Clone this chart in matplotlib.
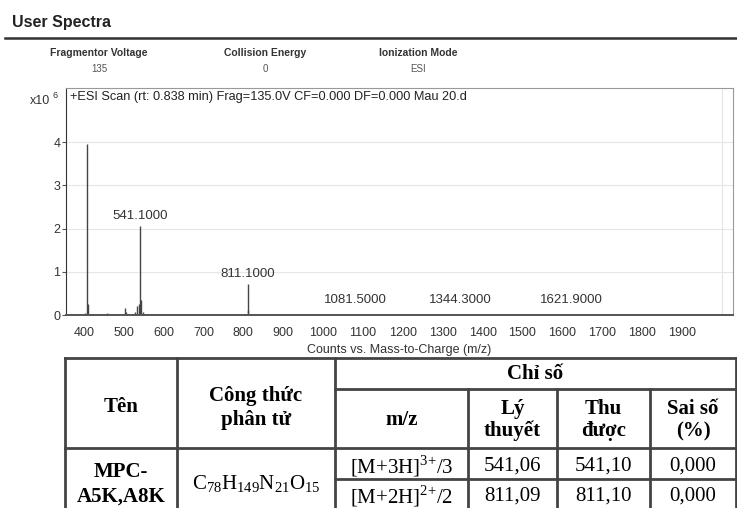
import matplotlib.pyplot as plt

plt.rcParams['mathtext.fontset'] = 'custom'
plt.rcParams['mathtext.rm'] = 'Liberation Serif'

W, H = 737, 508

# header info
info_names = ['Fragmentor Voltage', 'Collision Energy', 'Ionization Mode']
info_values = ['135', '0', 'ESI']
scan_title = '+ESI Scan (rt: 0.838 min) Frag=135.0V CF=0.000 DF=0.000 Mau 20.d'

# spectrum (m/z, counts x10^6)
peak_mz = [403, 408.0, 409.5, 432, 458, 480, 503, 505, 527, 533, 537,
           541.1, 542.5, 548, 601, 650, 811.1, 812.5, 830, 1081.5, 1344.3, 1621.9]
peak_int = [0.05, 3.95, 0.25, 0.03, 0.04, 0.03, 0.17, 0.08, 0.06, 0.2, 0.25,
            2.05, 0.35, 0.06, 0.03, 0.02, 0.72, 0.12, 0.03, 0.03, 0.02, 0.02]
labeled_mz = [541.1, 811.1, 1081.5, 1344.3, 1621.9]
labeled_int = [2.05, 0.72, 0.03, 0.02, 0.02]
x_ticks = list(range(400, 2000, 100))
y_ticks = [0, 1, 2, 3, 4]

# table
col_heads = ['Tên', 'Công thức\nphân tử']
group_head = 'Chỉ số'
sub_heads = ['m/z', 'Lý\nthuyết', 'Thu\nđược', 'Sai số\n(%)']
compound = 'MPC-\nA5K,A8K'
formula = r'$\mathrm{C_{78}H_{149}N_{21}O_{15}}$'
ions = [r'[M+3H]$^{\mathrm{3{+}}}$/3', r'[M+2H]$^{\mathrm{2{+}}}$/2']
theory = ['541,06', '811,09']
found = ['541,10', '811,10']
error = ['0,000', '0,000']

fig = plt.figure(figsize=(W / 100, H / 100), dpi=100)
bg = fig.add_axes([0, 0, 1, 1])
bg.set_xlim(0, W)
bg.set_ylim(H, 0)
bg.axis('off')

sans = 'Liberation Sans'
serif = 'Liberation Serif'

bg.text(12, 22, 'User Spectra', fontsize=11.5, fontweight='bold', family=sans,
        va='center', color='#222222')
bg.plot([5, W], [38, 38], color='#333333', lw=1.8)
for cx, name, val in zip([99, 265, 418], info_names, info_values):
    bg.text(cx, 53, name, fontsize=7.5, fontweight='bold', family=sans,
            ha='center', va='center', color='#333333')
    bg.text(cx, 69, val, fontsize=7, family=sans, ha='center', va='center',
            color='#555555')

bg.text(50, 101, 'x10', fontsize=9, family=sans, ha='right', va='center', color='#333333')
bg.text(53, 96, '6', fontsize=6.5, family=sans, ha='left', va='center', color='#333333')
bg.text(399, 350, 'Counts vs. Mass-to-Charge (m/z)', fontsize=9, family=sans,
        ha='center', va='center', color='#333333')

# spectrum axes
ax = fig.add_axes([66 / W, (H - 315) / H, (733 - 66) / W, (315 - 88) / H])
ax.set_xlim(355, 2028)
ax.set_ylim(0, 5.25)
ax.vlines(peak_mz, 0, peak_int, color='#444444', lw=1.0)
ax.plot([355, 2028], [0.02, 0.02], color='#666666', lw=0.6)
for mz, h in zip(labeled_mz, labeled_int):
    ax.annotate(f'{mz:.4f}', (mz, max(h, 0.12)), xytext=(0, 3),
                textcoords='offset points', ha='center', va='bottom',
                fontsize=9.5, family=sans, color='#333333')
ax.text(0.006, 0.985, scan_title, transform=ax.transAxes, fontsize=9.2,
        family=sans, ha='left', va='top', color='#222222')
ax.set_xticks(x_ticks)
ax.set_xticks(list(range(400, 2100, 100)), minor=True)
ax.set_yticks(y_ticks)
ax.grid(True, which='minor', axis='x', color='#e6e6e6', lw=0.8)
ax.grid(True, which='major', axis='y', color='#e6e6e6', lw=0.8)
ax.set_axisbelow(True)
ax.tick_params(axis='x', which='both', length=0, pad=9, labelsize=9, labelcolor='#333333')
ax.tick_params(axis='y', length=3, pad=1, labelsize=9, labelcolor='#333333', color='#555555')
for lab in ax.get_xticklabels() + ax.get_yticklabels():
    lab.set_family(sans)
for s in ['top', 'right']:
    ax.spines[s].set_color('#999999')
ax.spines['left'].set_color('#333333')
ax.spines['bottom'].set_color('#555555')
ax.spines['bottom'].set_linewidth(1.4)

# table grid
lc, lw = '#444444', 2.0
cx = [65, 177, 335, 468, 557, 650, 736]
ry = [358, 389, 448, 479, H + 2]
bg.plot([cx[0], cx[-1]], [ry[0], ry[0]], color=lc, lw=lw)
bg.plot([cx[2], cx[-1]], [ry[1], ry[1]], color=lc, lw=lw)
bg.plot([cx[0], cx[-1]], [ry[2], ry[2]], color=lc, lw=lw)
bg.plot([cx[2], cx[-1]], [ry[3], ry[3]], color=lc, lw=lw)
for x in cx[:3] + cx[-1:]:
    bg.plot([x, x], [ry[0], ry[-1]], color=lc, lw=lw)
for x in cx[3:6]:
    bg.plot([x, x], [ry[1], ry[-1]], color=lc, lw=lw)

fs = 15
ls = 1.3
bg.text((cx[0] + cx[1]) / 2, 407, col_heads[0], fontsize=fs, fontweight='bold',
        family=serif, ha='center', va='center')
bg.text((cx[1] + cx[2]) / 2, 408, col_heads[1], fontsize=fs, fontweight='bold',
        family=serif, ha='center', va='center', linespacing=ls)
bg.text((cx[2] + cx[-1]) / 2, 374, group_head, fontsize=fs, fontweight='bold',
        family=serif, ha='center', va='center')
for i, t in enumerate(sub_heads):
    bg.text((cx[i + 2] + cx[i + 3]) / 2, 420, t, fontsize=fs, fontweight='bold',
            family=serif, ha='center', va='center', linespacing=1.15)
bg.text((cx[0] + cx[1]) / 2, 484, compound, fontsize=fs, fontweight='bold',
        family=serif, ha='center', va='center', linespacing=ls)
bg.text((cx[1] + cx[2]) / 2, 483, formula, fontsize=fs, family=serif,
        ha='center', va='center')
for r in range(2):
    yc = (ry[r + 2] + ry[r + 3]) / 2 + (3 if r == 0 else 2)
    for j, t in enumerate([ions[r], theory[r], found[r], error[r]]):
        bg.text((cx[j + 2] + cx[j + 3]) / 2, yc, t, fontsize=fs, family=serif,
                ha='center', va='center')

fig.savefig('out.png', dpi=100)
